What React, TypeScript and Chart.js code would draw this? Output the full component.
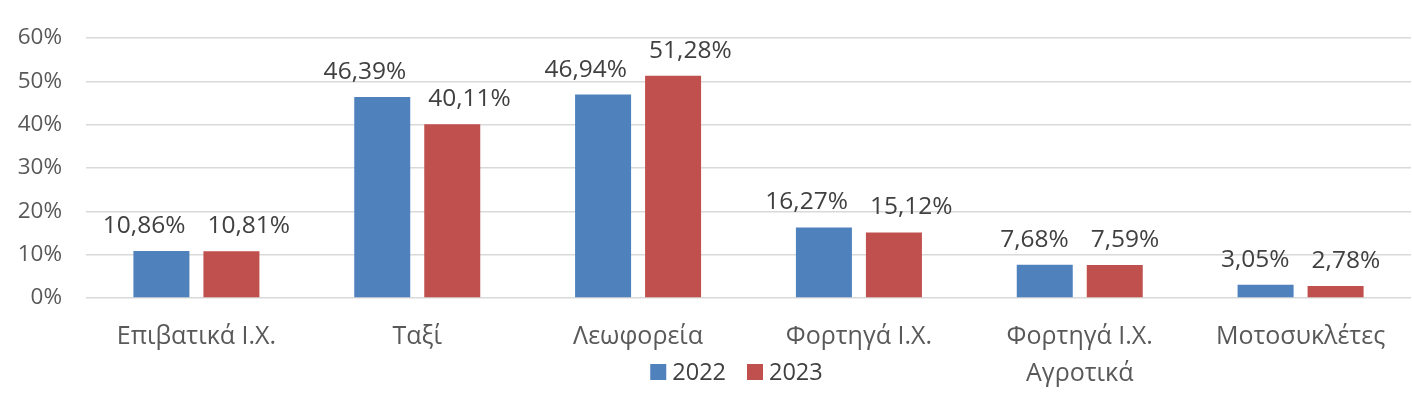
import React, { useEffect, useRef } from "react";
import { Chart, registerables } from "chart.js";

Chart.register(...registerables);

const categories: (string | string[])[] = [
  "Επιβατικά Ι.Χ.",
  "Ταξί",
  "Λεωφορεία",
  "Φορτηγά Ι.Χ.",
  ["Φορτηγά Ι.Χ.", "Αγροτικά"],
  "Μοτοσυκλέτες",
];
const values2022 = [10.86, 46.39, 46.94, 16.27, 7.68, 3.05];
const values2023 = [10.81, 40.11, 51.28, 15.12, 7.59, 2.78];
const seriesNames = ["2022", "2023"];
const seriesColors = ["#4F81BD", "#C0504D"];

const FONT = "'Open Sans', sans-serif";
const LABEL_GAP = 22;

const fmt = (v: number) => v.toFixed(2).replace(".", ",") + "%";

const dataLabelPlugin = {
  id: "dataLabels",
  afterDatasetsDraw(chart: any) {
    const ctx = chart.ctx;
    ctx.save();
    ctx.font = `24.5px ${FONT}`;
    ctx.fillStyle = "#404040";
    ctx.textAlign = "center";
    ctx.textBaseline = "alphabetic";
    const m0 = chart.getDatasetMeta(0);
    const m1 = chart.getDatasetMeta(1);
    const d0 = chart.data.datasets[0].data;
    const d1 = chart.data.datasets[1].data;
    m0.data.forEach((b0: any, j: number) => {
      const b1 = m1.data[j];
      const t0 = fmt(d0[j]);
      const t1 = fmt(d1[j]);
      const w0 = ctx.measureText(t0).width;
      const w1 = ctx.measureText(t1).width;
      const need = w0 / 2 + w1 / 2 + LABEL_GAP - (b1.x - b0.x);
      const shift = Math.max(0, need / 2);
      ctx.fillText(t0, b0.x - shift, b0.y - 18);
      ctx.fillText(t1, b1.x + shift, b1.y - 18);
    });
    ctx.restore();
  },
};

const legendPlugin = {
  id: "customLegend",
  afterDraw(chart: any) {
    const ctx = chart.ctx;
    const area = chart.chartArea;
    ctx.save();
    ctx.font = `23.5px ${FONT}`;
    ctx.textBaseline = "middle";
    ctx.textAlign = "left";
    const box = 16;
    const gapBoxText = 6;
    const gapItems = 21;
    const widths = seriesNames.map((n) => box + gapBoxText + ctx.measureText(n).width);
    const total = widths.reduce((a, b) => a + b, 0) + gapItems * (seriesNames.length - 1);
    let x = (area.left + area.right) / 2 - 12 - total / 2;
    const y = area.bottom + 74;
    seriesNames.forEach((n, i) => {
      ctx.fillStyle = seriesColors[i];
      ctx.fillRect(x, y - box / 2, box, box);
      ctx.fillStyle = "#404040";
      ctx.fillText(n, x + box + gapBoxText, y + 1);
      x += widths[i] + gapItems;
    });
    ctx.restore();
  },
};

export default function App() {
  const ref = useRef<HTMLCanvasElement | null>(null);
  useEffect(() => {
    document.body.style.margin = "0";
    const chart = new Chart(ref.current!, {
      type: "bar",
      data: {
        labels: categories,
        datasets: [
          {
            label: seriesNames[0],
            data: values2022,
            backgroundColor: seriesColors[0],
            categoryPercentage: 0.634,
            barPercentage: 0.8,
          },
          {
            label: seriesNames[1],
            data: values2023,
            backgroundColor: seriesColors[1],
            categoryPercentage: 0.634,
            barPercentage: 0.8,
          },
        ],
      },
      options: {
        animation: false,
        responsive: false,
        maintainAspectRatio: false,
        layout: { padding: { top: 38, right: 1, left: 0, bottom: 0 } },
        plugins: {
          legend: { display: false },
          tooltip: { enabled: false },
        },
        scales: {
          x: {
            grid: { display: false, drawTicks: false },
            border: { display: false },
            ticks: {
              color: "#595959",
              font: { family: FONT, size: 25, lineHeight: 1.48 },
              padding: 20,
              maxRotation: 0,
              autoSkip: false,
            },
            afterFit: (s: any) => {
              s.height = 97;
            },
          },
          y: {
            min: 0,
            max: 60,
            ticks: {
              stepSize: 10,
              color: "#595959",
              font: { family: FONT, size: 22.5 },
              padding: 24,
              callback: (v: any) => v + "%",
            },
            grid: { color: "#D9D9D9", lineWidth: 1.4, drawTicks: false },
            border: { display: false },
            afterFit: (s: any) => {
              s.width = 86;
            },
          },
        },
      },
      plugins: [dataLabelPlugin, legendPlugin],
    });
    return () => chart.destroy();
  }, []);
  return (
    <div style={{ width: 1412, height: 395 }}>
      <canvas ref={ref} width={1412} height={395} />
    </div>
  );
}
